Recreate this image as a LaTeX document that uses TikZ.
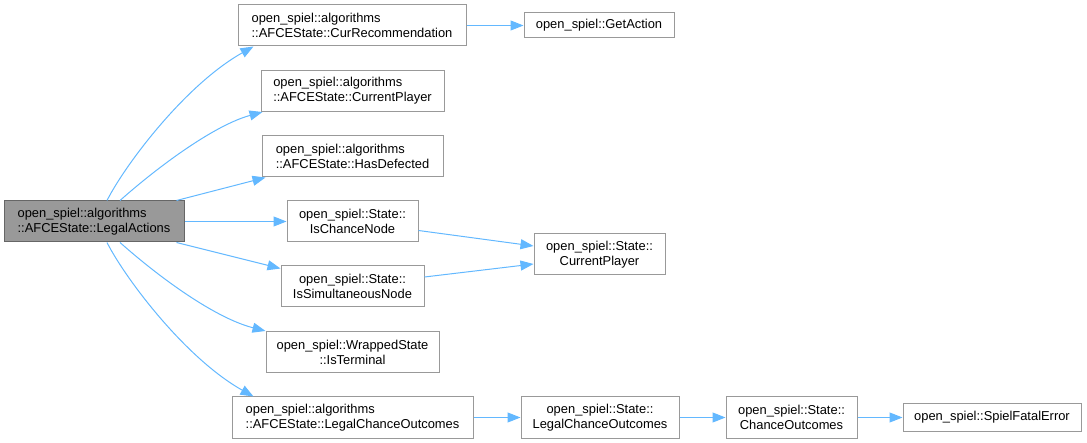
\documentclass[tikz,border=0pt]{standalone}
\usepackage{fontspec}
\setmainfont{Liberation Sans}
\usetikzlibrary{arrows.meta}
\definecolor{edgeblue}{HTML}{63B8FF}
\definecolor{boxgray}{HTML}{999999}
\definecolor{rootborder}{HTML}{666666}
\begin{document}
\begin{tikzpicture}[x=1pt,y=-1pt,
  box/.style={draw=boxgray, line width=1pt, fill=white, inner sep=0pt, minimum height=41pt,
    font=\fontsize{12.9}{15}\selectfont},
  lbox/.style={box, align=left},
  cbox/.style={box, align=center},
  root/.style={lbox, fill=boxgray, draw=rootborder},
  edge/.style={draw=edgeblue, line width=1pt, -{Triangle[length=13pt,width=10pt]}}
]
\useasboundingbox (0,0) rectangle (1087,443);

\node[root, minimum width=180pt] (main) at (94,221.5) {open\_spiel::algorithms\\::AFCEState::LegalActions};
\node[lbox, minimum width=228pt] (currec) at (352,25.5) {open\_spiel::algorithms\\::AFCEState::CurRecommendation};
\node[cbox, minimum width=150pt, minimum height=25pt] (getaction) at (599,25.5) {open\_spiel::GetAction};
\node[lbox, minimum width=183pt] (afcecp) at (352.5,91) {open\_spiel::algorithms\\::AFCEState::CurrentPlayer};
\node[lbox, minimum width=181pt] (hasdef) at (352.5,156.5) {open\_spiel::algorithms\\::AFCEState::HasDefected};
\node[cbox, minimum width=131pt] (ischance) at (352.5,221.5) {open\_spiel::State::\\IsChanceNode};
\node[cbox, minimum width=143pt] (issim) at (352.5,286.5) {open\_spiel::State::\\IsSimultaneousNode};
\node[cbox, minimum width=131pt] (statecp) at (599.5,254.5) {open\_spiel::State::\\CurrentPlayer};
\node[cbox, minimum width=173pt] (isterm) at (352.5,352) {open\_spiel::WrappedState\\::IsTerminal};
\node[lbox, minimum width=241pt] (lcoafce) at (352.5,417.5) {open\_spiel::algorithms\\::AFCEState::LegalChanceOutcomes};
\node[cbox, minimum width=158pt] (statelco) at (600,417.5) {open\_spiel::State::\\LegalChanceOutcomes};
\node[cbox, minimum width=131pt] (chanceout) at (791.5,417.5) {open\_spiel::State::\\ChanceOutcomes};
\node[cbox, minimum width=178pt, minimum height=27pt] (fatal) at (992,417.5) {open\_spiel::SpielFatalError};

% edges from main (note: y axis points down, so positive yshift moves up)
\draw[edge] ([xshift=13pt]main.north) .. controls (125,165) and (185,85) .. ([xshift=16pt]currec.south west);
\draw[edge] ([xshift=26pt]main.north) .. controls (160,165) and (215,125) .. ([xshift=2pt]afcecp.south west);
\draw[edge] ([xshift=-8pt]main.north east) -- ([xshift=4pt]hasdef.south west);
\draw[edge] (main.east) -- (ischance.west);
\draw[edge] ([xshift=-8pt]main.south east) -- ([yshift=-3pt]issim.north west);
\draw[edge] ([xshift=26pt]main.south) .. controls (160,278) and (215,318) .. (isterm.north west);
\draw[edge] ([xshift=13pt]main.south) .. controls (125,278) and (185,358) .. ([xshift=22pt]lcoafce.north west);

% other edges
\draw[edge] (currec.east) -- (getaction.west);
\draw[edge] ([yshift=-9pt]ischance.east) -- ([yshift=8.5pt]statecp.west);
\draw[edge] ([yshift=9.5pt]issim.east) -- ([yshift=-9.5pt]statecp.west);
\draw[edge] (lcoafce.east) -- (statelco.west);
\draw[edge] (statelco.east) -- (chanceout.west);
\draw[edge] (chanceout.east) -- (fatal.west);
\end{tikzpicture}
\end{document}
